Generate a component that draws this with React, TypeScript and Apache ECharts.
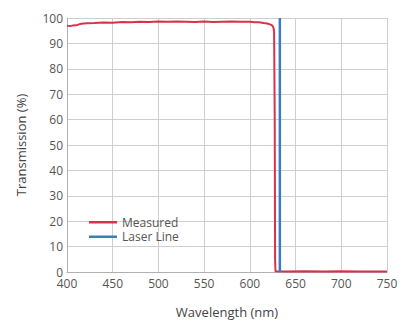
import React, { useEffect, useRef } from "react";
import * as echarts from "echarts";

const measuredWavelength = [400, 403, 406, 410, 414, 418, 422, 430, 440, 450, 460, 470, 480, 490, 500, 510, 520, 530, 540, 550, 560, 570, 580, 590, 600, 605, 610, 615, 619, 622, 624, 625.5, 626.5, 627.2, 627.6, 628, 640, 660, 680, 700, 720, 750];
const measuredTransmission = [97.0, 96.8, 97.0, 97.1, 97.6, 97.8, 97.9, 98.0, 98.2, 98.1, 98.4, 98.3, 98.5, 98.4, 98.6, 98.5, 98.6, 98.5, 98.4, 98.6, 98.4, 98.5, 98.6, 98.5, 98.5, 98.3, 98.3, 98.0, 97.8, 97.5, 97.2, 96.5, 95.0, 60.0, 5.0, 0.3, 0.2, 0.3, 0.2, 0.3, 0.2, 0.2];
const laserWavelength = [632.8, 632.8];
const laserTransmission = [0, 100];
const xTicks = { min: 400, max: 750, interval: 50 };
const yTicks = { min: 0, max: 100, interval: 10 };

export default function App() {
  const ref = useRef<HTMLDivElement>(null);
  useEffect(() => {
    if (!ref.current) return;
    const chart = echarts.init(ref.current, undefined, { renderer: "svg" });
    const font = "'Open Sans', sans-serif";
    chart.setOption({
      animation: false,
      textStyle: { fontFamily: font },
      grid: { left: 67, right: 30, top: 18, bottom: 46, containLabel: false },
      legend: {
        orient: "vertical",
        left: 84,
        top: 210,
        icon: "rect",
        itemWidth: 28,
        itemHeight: 2.5,
        itemGap: 0,
        textStyle: { fontFamily: font, fontSize: 12, color: "#555", lineHeight: 14.5 },
        data: ["Measured", "Laser Line"],
      },
      xAxis: {
        type: "value",
        min: xTicks.min,
        max: xTicks.max,
        interval: xTicks.interval,
        name: "Wavelength (nm)",
        nameLocation: "middle",
        nameGap: 33,
        nameTextStyle: { fontFamily: font, fontSize: 13, color: "#444" },
        axisLine: { show: true, lineStyle: { color: "#b0b0b0" } },
        axisTick: { show: false },
        axisLabel: { fontFamily: font, fontSize: 12, color: "#555", margin: 5 },
        splitLine: { show: true, lineStyle: { color: "#cfcfcf" } },
      },
      yAxis: {
        type: "value",
        min: yTicks.min,
        max: yTicks.max,
        interval: yTicks.interval,
        name: "Transmission (%)",
        nameLocation: "middle",
        nameGap: 40,
        nameTextStyle: { fontFamily: font, fontSize: 13, color: "#444" },
        axisLine: { show: true, lineStyle: { color: "#b0b0b0" } },
        axisTick: { show: false },
        axisLabel: { fontFamily: font, fontSize: 12, color: "#555", margin: 4, lineHeight: 12 },
        splitLine: { show: true, lineStyle: { color: "#cfcfcf" } },
      },
      series: [
        {
          name: "Measured",
          type: "line",
          symbol: "none",
          color: "#d8324b",
          lineStyle: { width: 2, color: "#d8324b" },
          data: measuredWavelength.map((w, i) => [w, measuredTransmission[i]]),
        },
        {
          name: "Laser Line",
          type: "line",
          symbol: "none",
          color: "#3a7cbd",
          lineStyle: { width: 2.5, color: "#3a7cbd" },
          data: laserWavelength.map((w, i) => [w, laserTransmission[i]]),
        },
      ],
    });
    return () => chart.dispose();
  }, []);
  return <div ref={ref} style={{ width: 417, height: 323, position: "absolute", left: 0, top: 0 }} />;
}
